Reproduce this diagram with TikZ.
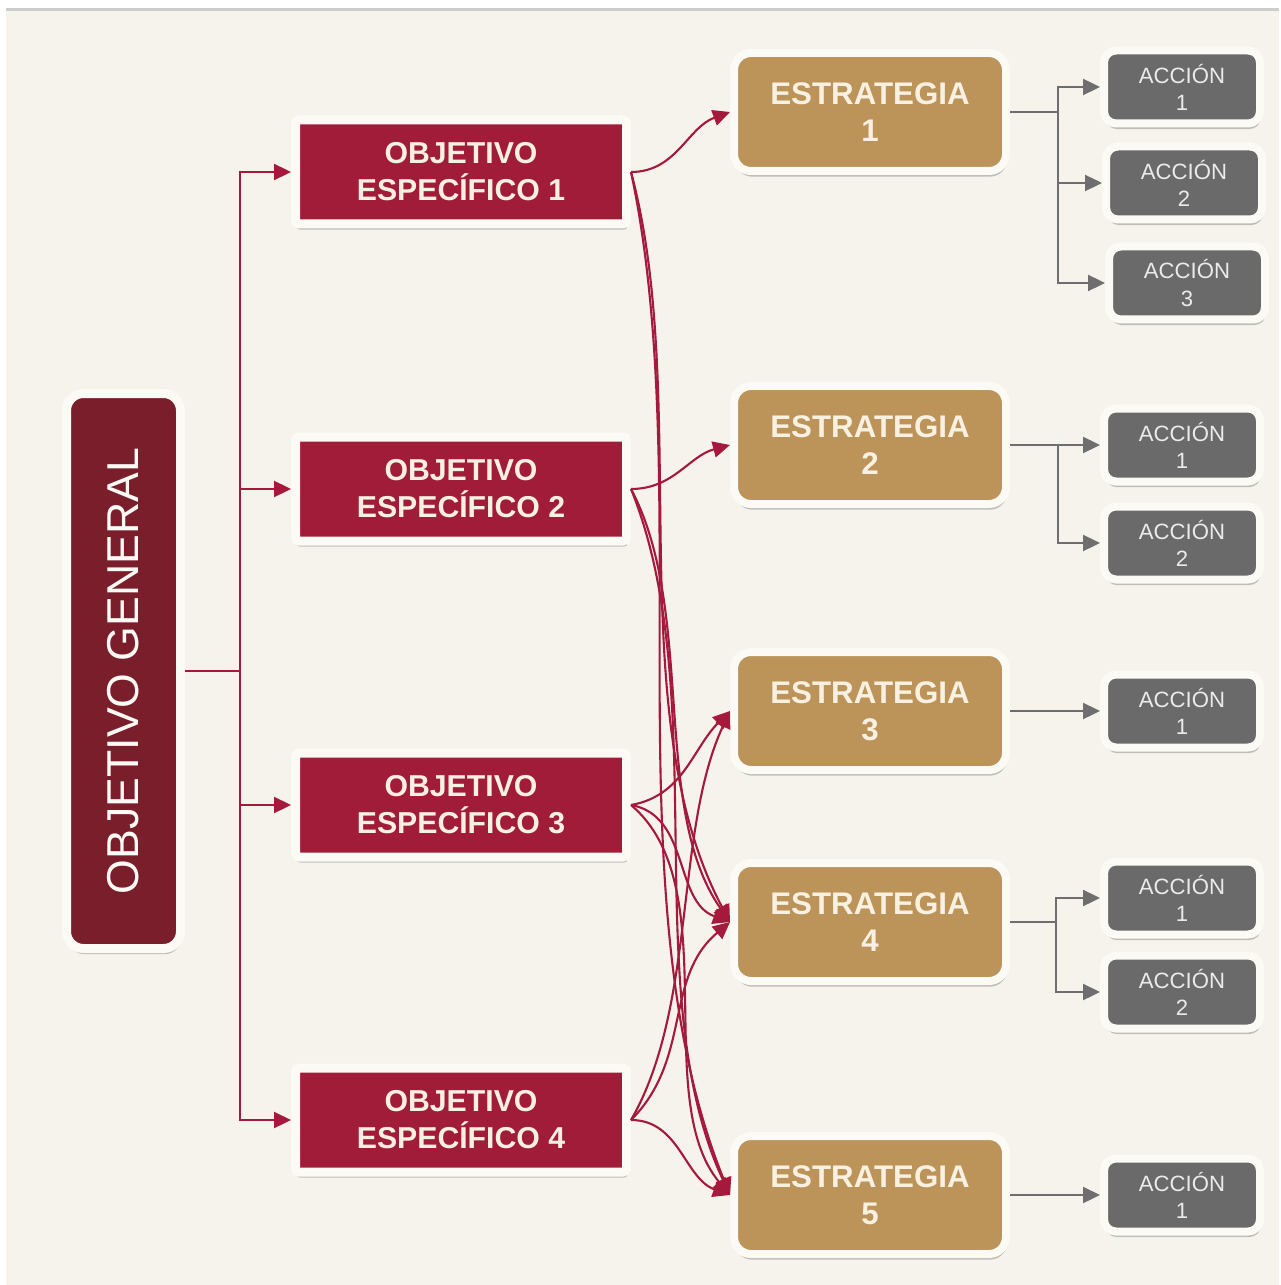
\documentclass[tikz,border=0pt]{standalone}
\usepackage{fontspec}
\setmainfont{Liberation Sans}
\usepackage{graphicx}
\usetikzlibrary{positioning,arrows.meta,shadows}
\definecolor{bgcream}{HTML}{F5F3EB}
\definecolor{framecol}{HTML}{FBFAF4}
\definecolor{ogred}{HTML}{7A1E2C}
\definecolor{oered}{HTML}{A01C38}
\definecolor{estgold}{HTML}{BC9359}
\definecolor{accgray}{HTML}{6A6A6A}
\definecolor{linered}{HTML}{A51A3C}
\definecolor{linegray}{HTML}{6E6E6E}
\definecolor{esttext}{HTML}{F8F1E2}
\tikzset{
  boxshadow/.style={drop shadow={shadow xshift=0.3pt,shadow yshift=-1.6pt,opacity=0.32,fill=black!70}},
  genbox/.style={draw=framecol,line width=0.09cm,fill=ogred,rounded corners=0.17cm,
    minimum width=1.14cm,minimum height=5.55cm,inner sep=0pt,boxshadow,
    text=framecol,font=\fontsize{12.7}{15}\selectfont},
  objbox/.style={draw=framecol,line width=0.09cm,fill=oered,rounded corners=1pt,
    minimum width=3.31cm,minimum height=1.04cm,inner sep=0pt,align=center,boxshadow,
    text=esttext,font=\bfseries\fontsize{8.6}{10.5}\selectfont},
  estbox/.style={draw=framecol,line width=0.08cm,fill=estgold,rounded corners=0.17cm,
    minimum width=2.72cm,minimum height=1.18cm,inner sep=0pt,align=center,boxshadow,
    text=esttext,font=\bfseries\fontsize{8.9}{10.5}\selectfont},
  accbox/.style={draw=framecol,line width=0.08cm,fill=accgray,rounded corners=0.12cm,
    minimum width=1.56cm,minimum height=0.73cm,inner sep=0pt,align=center,boxshadow,
    text=black!8,font=\fontsize{6.3}{7.7}\selectfont},
  redline/.style={draw=linered,line width=0.65pt,-{Triangle[length=0.17cm,width=0.16cm]}},
  redcurve/.style={redline,line width=0.6pt},
  grayline/.style={draw=linegray,line width=0.65pt,-{Triangle[length=0.17cm,width=0.16cm]}}
}

\begin{document}
\begin{tikzpicture}[node distance=0.9cm]
\fill[white] (0,0) rectangle (12.79,-12.85);
\fill[bgcream] (0.06,-0.11) rectangle (12.79,-12.85);
\draw[black!20,line width=0.03cm] (0.06,-0.095) -- (12.79,-0.095);

\node[genbox] (OG) at (1.235,-6.71) {\rotatebox{90}{OBJETIVO GENERAL}};

\node[objbox] (OE1) at (4.61,-1.72) {OBJETIVO\\ESPECÍFICO 1};
\node[objbox] (OE2) at (4.61,-4.89) {OBJETIVO\\ESPECÍFICO 2};
\node[objbox] (OE3) at (4.61,-8.05) {OBJETIVO\\ESPECÍFICO 3};
\node[objbox] (OE4) at (4.61,-11.20) {OBJETIVO\\ESPECÍFICO 4};

\node[estbox] (E1) at (8.70,-1.12) {ESTRATEGIA\\1};
\node[estbox] (E2) at (8.70,-4.45) {ESTRATEGIA\\2};
\node[estbox] (E3) at (8.70,-7.11) {ESTRATEGIA\\3};
\node[estbox] (E4) at (8.70,-9.22) {ESTRATEGIA\\4};
\node[estbox] (E5) at (8.70,-11.95) {ESTRATEGIA\\5};

% acciones de cada estrategia
\node[accbox,right=of E1,yshift=0.25cm] (A11) {ACCIÓN\\1};
\node[accbox,right=of E1,yshift=-0.71cm,xshift=0.02cm] (A12) {ACCIÓN\\2};
\node[accbox,right=of E1,yshift=-1.71cm,xshift=0.05cm] (A13) {ACCIÓN\\3};
\node[accbox,right=of E2] (A21) {ACCIÓN\\1};
\node[accbox,right=of E2,yshift=-0.98cm] (A22) {ACCIÓN\\2};
\node[accbox,right=of E3] (A31) {ACCIÓN\\1};
\node[accbox,right=of E4,yshift=0.24cm] (A41) {ACCIÓN\\1};
\node[accbox,right=of E4,yshift=-0.70cm] (A42) {ACCIÓN\\2};
\node[accbox,right=of E5] (A51) {ACCIÓN\\1};

\draw[redline] (OG.east) -- ++(0.55,0) |- (OE1);
\draw[redline] (OG.east) -- ++(0.55,0) |- (OE2);
\draw[redline] (OG.east) -- ++(0.55,0) |- (OE3);
\draw[redline] (OG.east) -- ++(0.55,0) |- (OE4);

\draw[redcurve] (OE1.east) to[out=0,in=200] (E1.west);
\draw[redcurve] (OE1.east) to[out=-75,in=118,looseness=0.8] (E4.west);
\draw[redcurve] (OE1.east) to[out=-78,in=112,looseness=0.8] (E5.west);
\draw[redcurve] (OE2.east) to[out=0,in=195] (E2.west);
\draw[redcurve] (OE2.east) to[out=-62,in=125,looseness=0.8] (E4.west);
\draw[redcurve] (OE2.east) to[out=-68,in=115,looseness=0.8] (E5.west);
\draw[redcurve] (OE3.east) to[out=10,in=225] (E3.west);
\draw[redcurve] (OE3.east) to[out=-10,in=160] (E4.west);
\draw[redcurve] (OE3.east) to[out=-40,in=130,looseness=0.8] (E5.west);
\draw[redcurve] (OE4.east) to[out=60,in=-115,looseness=0.8] (E3.west);
\draw[redcurve] (OE4.east) to[out=45,in=-140] (E4.west);
\draw[redcurve] (OE4.east) to[out=0,in=160] (E5.west);

\draw[grayline] (E1.east) -- ++(0.48,0) |- (A11);
\draw[grayline] (E1.east) -- ++(0.48,0) |- (A12);
\draw[grayline] (E1.east) -- ++(0.48,0) |- (A13);
\draw[grayline] (E2.east) -- ++(0.48,0) |- (A21);
\draw[grayline] (E2.east) -- ++(0.48,0) |- (A22);
\draw[grayline] (E3.east) -- (A31);
\draw[grayline] (E4.east) -- ++(0.46,0) |- (A41);
\draw[grayline] (E4.east) -- ++(0.46,0) |- (A42);
\draw[grayline] (E5.east) -- (A51);
\end{tikzpicture}
\end{document}
